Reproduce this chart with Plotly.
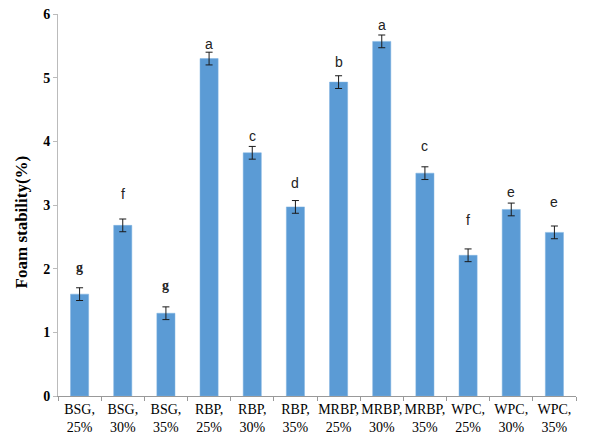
import plotly.graph_objects as go

categories = ["BSG,<br>25%", "BSG,<br>30%", "BSG,<br>35%", "RBP,<br>25%", "RBP,<br>30%", "RBP,<br>35%",
              "MRBP,<br>25%", "MRBP,<br>30%", "MRBP,<br>35%", "WPC,<br>25%", "WPC,<br>30%", "WPC,<br>35%"]
values = [1.60, 2.68, 1.30, 5.30, 3.82, 2.97, 4.93, 5.57, 3.50, 2.21, 2.93, 2.57]
errors = [0.10, 0.10, 0.10, 0.10, 0.10, 0.10, 0.10, 0.10, 0.10, 0.10, 0.10, 0.10]
letters = ["g", "f", "g", "a", "c", "d", "b", "a", "c", "f", "e", "e"]
letter_heights = [2.02, 3.18, 1.74, 5.53, 4.09, 3.35, 5.24, 5.82, 3.93, 2.76, 3.20, 3.04]
y_title = "Foam stability(%)"

fig = go.Figure()
fig.add_trace(go.Bar(
    x=categories, y=values,
    marker=dict(color="#5B9BD5", line=dict(color="#7FB2E0", width=0.5)),
    error_y=dict(type="data", array=errors, color="#1a1a1a", thickness=1, width=3.5),
    width=0.42,
))

for c, h, l in zip(categories, letter_heights, letters):
    serif = l == "g"
    fig.add_annotation(x=c, y=h, text=l, showarrow=False, yanchor="middle",
                       font=dict(family="Liberation Serif" if serif else "Liberation Sans",
                                 size=14, color="#222", weight="bold" if serif else "normal"))

fig.add_annotation(xref="paper", yref="paper", x=-0.071, y=0.455, text="<b>" + y_title + "</b>",
                   textangle=-90, showarrow=False, xanchor="center", yanchor="middle",
                   font=dict(family="Liberation Serif", size=17, color="black"))

fig.update_layout(
    width=589, height=441,
    margin=dict(l=50, r=21, t=6, b=53),
    plot_bgcolor="white", paper_bgcolor="white",
    showlegend=False,
    font=dict(family="Liberation Serif", color="black"),
)
fig.update_xaxes(
    showline=True, linecolor="#999", linewidth=1,
    ticks="outside", tickson="boundaries", ticklen=4, tickcolor="#999",
    tickangle=0,
    tickfont=dict(family="Liberation Serif", size=14, color="black"),
    showgrid=False, automargin=False,
)
fig.update_yaxes(
    range=[0, 6], dtick=1,
    showline=True, linecolor="#bbb", linewidth=1,
    ticks="outside", ticklen=4, tickcolor="#bbb",
    ticklabeloverflow="allow",
    tickfont=dict(family="Liberation Serif", size=14, color="black", weight="bold"),
    showgrid=False, zeroline=False, automargin=False,
)

fig.write_html("out.html")
